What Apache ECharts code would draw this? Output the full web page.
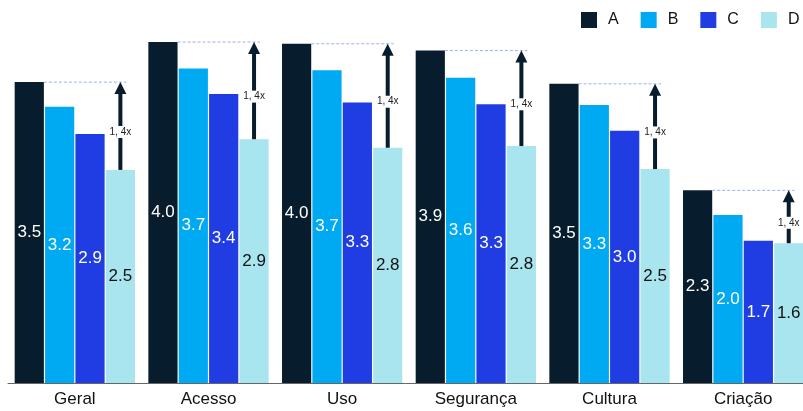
<!DOCTYPE html>
<html>
<head>
<meta charset="utf-8">
<script src="https://cdn.jsdelivr.net/npm/echarts@6/dist/echarts.min.js"></script>
<style>
html,body{margin:0;padding:0;background:#fff;}
#chart{width:803px;height:411px;}
</style>
</head>
<body>
<div id="chart"></div>
<script>
var categories = ['Geral', 'Acesso', 'Uso', 'Segurança', 'Cultura', 'Criação'];
var seriesNames = ['A', 'B', 'C', 'D'];
var valuesA = [3.53, 4.00, 3.98, 3.90, 3.51, 2.26];
var valuesB = [3.24, 3.69, 3.67, 3.58, 3.26, 1.97];
var valuesC = [2.92, 3.39, 3.29, 3.27, 2.96, 1.67];
var valuesD = [2.50, 2.86, 2.76, 2.78, 2.51, 1.64];
var ratioLabels = ['1, 4x', '1, 4x', '1, 4x', '1, 4x', '1, 4x', '1, 4x'];
var colors = ['#071C2C', '#00AAF2', '#203CE3', '#A9E5EF'];
var labelColors = ['#ffffff', '#ffffff', '#ffffff', '#111111'];

var BAR_CAT_GAP = 0.10, BAR_GAP = 0.04;

var chart = echarts.init(document.getElementById('chart'));
var allValues = [valuesA, valuesB, valuesC, valuesD];

var barSeries = seriesNames.map(function (n, k) {
  return {
    name: n,
    type: 'bar',
    data: allValues[k],
    barCategoryGap: (BAR_CAT_GAP * 100) + '%',
    barGap: (BAR_GAP * 100) + '%',
    itemStyle: { color: colors[k] },
    label: {
      show: true,
      position: 'inside',
      color: labelColors[k],
      fontSize: 17,
      fontFamily: 'Liberation Sans, Arial, sans-serif',
      formatter: function (p) { return p.value.toFixed(1); }
    },
    emphasis: { disabled: true },
    animation: false
  };
});

var arrowData = categories.map(function (c, i) {
  return [i, valuesA[i], valuesD[i], ratioLabels[i]];
});

var arrowSeries = {
  name: 'ratio',
  type: 'custom',
  data: arrowData,
  encode: { x: 0, y: [1, 2] },
  z: 5,
  silent: true,
  animation: false,
  renderItem: function (params, api) {
    var i = api.value(0);
    var pA = api.coord([i, api.value(1)]);
    var pD = api.coord([i, api.value(2)]);
    var bw = api.size([1, 0])[0];
    var inner = bw * (1 - BAR_CAT_GAP);
    var w = inner / (4 + 3 * BAR_GAP);
    var cx = pA[0];
    var aRight = cx - inner / 2 + w;
    var dc = cx + inner / 2 - w / 2;
    var yA = pA[1], yD = pD[1];
    var headH = 12, headW = 6;
    var midY = (yA + headH + yD) / 2;
    return {
      type: 'group',
      children: [
        { type: 'line', shape: { x1: aRight, y1: yA, x2: dc + headW, y2: yA },
          style: { stroke: '#9DB0F0', lineWidth: 1, lineDash: [3, 2] } },
        { type: 'rect', shape: { x: dc - 2, y: yA + headH - 1, width: 4, height: yD - yA - headH + 1 },
          style: { fill: '#071C2C' } },
        { type: 'polygon', shape: { points: [[dc - headW, yA + headH], [dc + headW, yA + headH], [dc, yA]] },
          style: { fill: '#071C2C' } },
        { type: 'text', x: dc, y: midY,
          style: { text: api.value(3), fill: '#222', fontSize: 10,
            fontFamily: 'Liberation Sans, Arial, sans-serif',
            align: 'center', verticalAlign: 'middle',
            backgroundColor: '#ffffff', padding: [1, 1] } }
      ]
    };
  }
};

chart.setOption({
  animation: false,
  legend: {
    data: seriesNames,
    left: 581,
    top: 12,
    padding: 0,
    itemWidth: 16,
    itemHeight: 16,
    itemGap: 22,
    icon: 'rect',
    textStyle: { fontSize: 16, color: '#111', fontFamily: 'Liberation Sans, Arial, sans-serif', padding: [0, 0, 0, 6] },
    selectedMode: false
  },
  grid: { left: 8, top: 25, bottom: 28, right: -7, containLabel: false, outerBoundsMode: 'none' },
  xAxis: {
    type: 'category',
    data: categories,
    axisLine: { show: true, lineStyle: { color: '#666', width: 1 } },
    axisTick: { show: false },
    axisLabel: { color: '#111', fontSize: 17, margin: 8, fontFamily: 'Liberation Sans, Arial, sans-serif' }
  },
  yAxis: {
    type: 'value',
    min: 0,
    max: 4.2,
    show: false,
    splitLine: { show: false }
  },
  series: barSeries.concat([arrowSeries])
});
</script>
</body>
</html>
